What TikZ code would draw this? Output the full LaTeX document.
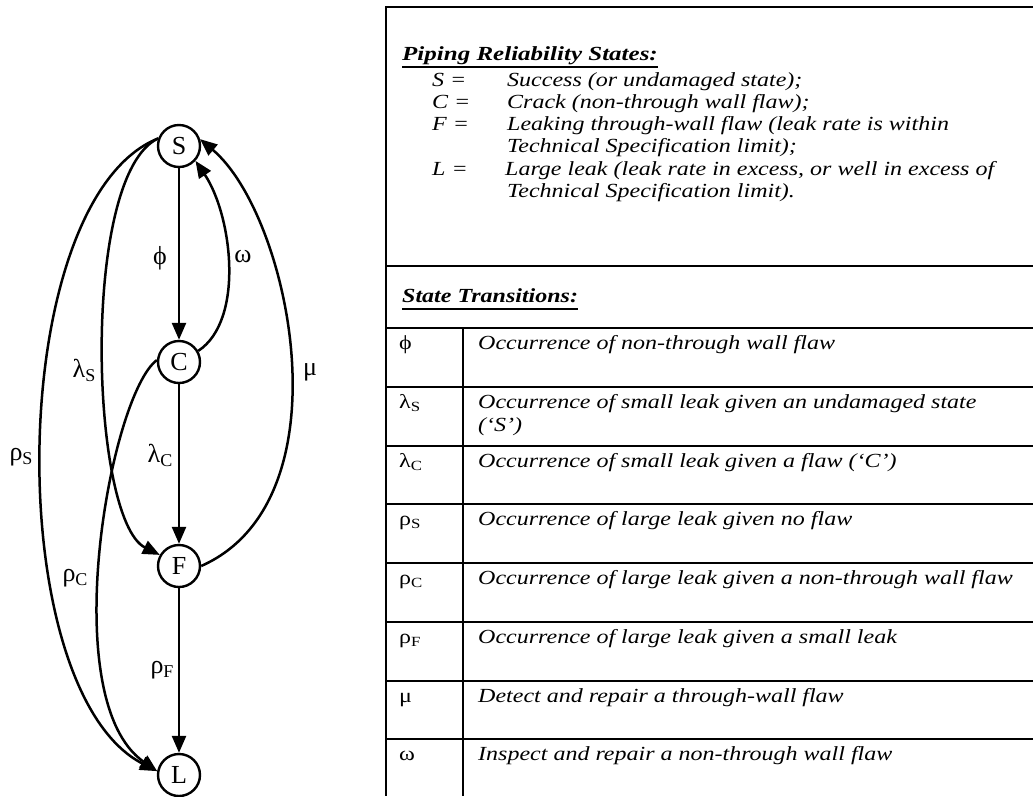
\documentclass[tikz,border=0pt]{standalone}
\usepackage{fontspec}
\setmainfont{Liberation Serif}
\usepackage{graphicx}
\usetikzlibrary{arrows.meta}
\newcommand{\tx}[1]{\scalebox{1.2}[1]{#1}}
\newcommand{\dsub}[1]{\raisebox{-4pt}{\fontsize{18}{18}\selectfont #1}}
\newcommand{\tsub}[1]{\raisebox{-3pt}{\fontsize{14}{14}\selectfont #1}}
\begin{document}
\begin{tikzpicture}[x=1pt,y=-1pt,
  state/.style={circle,draw,line width=2.4pt,minimum size=42pt,inner sep=0pt,font=\fontsize{26}{26}\selectfont},
  edge/.style={line width=2.5pt,-{Triangle[length=17pt,width=14pt]}},
  elab/.style={inner sep=0pt,font=\fontsize{26}{26}\selectfont},
  tline/.style={line width=1.8pt},
  ttext/.style={anchor=base west,inner sep=0pt,font=\fontsize{20}{20}\selectfont\itshape},
  thead/.style={anchor=base west,inner sep=0pt,font=\fontsize{20}{20}\selectfont\bfseries\itshape},
  tsym/.style={anchor=base west,inner sep=0pt,font=\fontsize{20}{20}\selectfont},
]
\useasboundingbox (0,0) rectangle (1033,796);
% states
\node[state] (S) at (179,146) {S};
\node[state] (C) at (179,362) {C};
\node[state] (F) at (179,566) {F};
\node[state] (L) at (179,775) {L};
% transitions
\draw[edge] (S) -- (C);
\draw[edge] (C) -- (F);
\draw[edge] (F) -- (L);
\draw[edge] (C.30) .. controls (245,320) and (232,215) .. (S.-42);
\draw[edge] (F.east) .. controls (350,500) and (290,215) .. (S.18);
\draw[edge] (S.160) .. controls (80,175) and (90,520) .. (F.150);
\draw[edge] (S.160) .. controls (5,200) and (0,690) .. (L.170);
\draw[edge] (C.175) .. controls (110,395) and (55,700) .. (L.170);
% labels
\node[elab] (lphi) at (160,258) {ϕ};
\node[elab] (lom) at (243,257) {ω};
\node[elab] (lls) at (84,370) {λ\dsub{S}};
\node[elab] (lmu) at (310,372) {μ};
\node[elab] (lrs) at (21,457) {ρ\dsub{S}};
\node[elab] (llc) at (160,455) {λ\dsub{C}};
\node[elab] (lrc) at (75,578) {ρ\dsub{C}};
\node[elab] (lrf) at (162,670) {ρ\dsub{F}};
% table frame
\draw[tline] (1033,7) -- (386,7) -- (386,796);
\draw[tline] (386,266) -- (1033,266);
\foreach \y in {328,387,446,504,563,622,681,739} \draw[tline] (386,\y) -- (1033,\y);
\draw[tline] (463,328) -- (463,796);
% states legend
\node[thead] (h1) at (402,60) {\scalebox{1.25}[1]{Piping Reliability States:}};
\draw[line width=2.4pt] ([yshift=-7pt]h1.base west) -- ([yshift=-7pt]h1.base east);
\node[ttext] (k1) at (432,86) {\tx{S =}};
\node[ttext] (v1) at (507,86) {\tx{Success (or undamaged state);}};
\node[ttext] (k2) at (432,108) {\tx{C =}};
\node[ttext] (v2) at (507,108) {\tx{Crack (non-through wall flaw);}};
\node[ttext] (k3) at (432,130) {\tx{F =}};
\node[ttext] (v3) at (507,130) {\tx{Leaking through-wall flaw (leak rate is within}};
\node[ttext] (v3b) at (507,152) {\tx{Technical Specification limit);}};
\node[ttext] (k4) at (432,175) {\tx{L =}};
\node[ttext] (v4) at (505,175) {\tx{Large leak (leak rate in excess, or well in excess of}};
\node[ttext] (v4b) at (507,197) {\tx{Technical Specification limit).}};
% transitions table
\node[thead] (h2) at (402,302) {\tx{State Transitions:}};
\draw[line width=2.4pt] ([yshift=-7pt]h2.base west) -- ([yshift=-7pt]h2.base east);
\node[tsym] (r1) at (399,349) {\tx{ϕ}};
\node[ttext] (t1) at (478,349) {\tx{Occurrence of non-through wall flaw}};
\node[tsym] (r2) at (399,408) {\tx{λ\tsub{S}}};
\node[ttext] (t2) at (478,408) {\tx{Occurrence of small leak given an undamaged state}};
\node[ttext] (t2b) at (478,431) {\tx{(‘S’)}};
\node[tsym] (r3) at (399,467) {\tx{λ\tsub{C}}};
\node[ttext] (t3) at (478,467) {\tx{Occurrence of small leak given a flaw (‘C’)}};
\node[tsym] (r4) at (399,525) {\tx{ρ\tsub{S}}};
\node[ttext] (t4) at (478,525) {\tx{Occurrence of large leak given no flaw}};
\node[tsym] (r5) at (399,584) {\tx{ρ\tsub{C}}};
\node[ttext] (t5) at (478,584) {\tx{Occurrence of large leak given a non-through wall flaw}};
\node[tsym] (r6) at (399,643) {\tx{ρ\tsub{F}}};
\node[ttext] (t6) at (478,643) {\tx{Occurrence of large leak given a small leak}};
\node[tsym] (r7) at (399,702) {\tx{μ}};
\node[ttext] (t7) at (478,702) {\tx{Detect and repair a through-wall flaw}};
\node[tsym] (r8) at (399,760) {\tx{ω}};
\node[ttext] (t8) at (478,760) {\tx{Inspect and repair a non-through wall flaw}};
\end{tikzpicture}
\end{document}
